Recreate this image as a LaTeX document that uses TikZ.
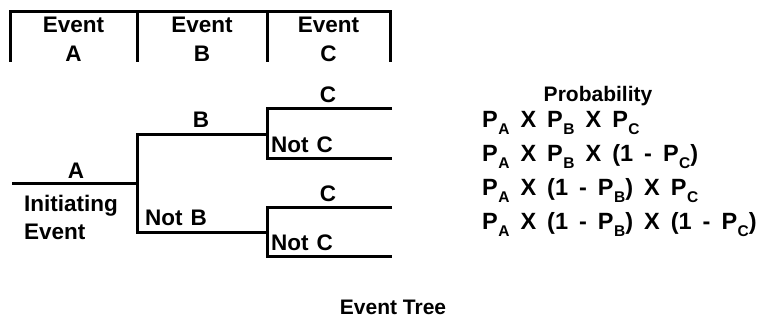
\documentclass[tikz,border=0pt]{standalone}
\usepackage{fontspec}
\setmainfont{Liberation Sans}
\newcommand\probterm[1]{P\kern0.5pt\raisebox{-7pt}{\fontsize{15.5}{15.5}\selectfont #1}}
\newcommand\branchfont{\bfseries\fontsize{22.5}{24}\selectfont\spaceskip=8pt\relax}
\newcommand\probfont{\bfseries\fontsize{23.5}{26}\selectfont\spaceskip=11pt\relax}
\newcommand\headfont{\bfseries\fontsize{21}{23}\selectfont}
\begin{document}
\begin{tikzpicture}[x=1pt,y=-1pt,
  branch/.style={line width=3pt, line join=miter},
  lbl/.style={font=\branchfont, inner sep=0pt, anchor=base},
  lblw/.style={lbl, anchor=base west},
  prob/.style={font=\probfont, inner sep=0pt, anchor=base west},
  heading/.style={font=\headfont, inner sep=0pt, anchor=base}]
\useasboundingbox (0,0) rectangle (760,329);

% column header bracket
\coordinate (h0t) at (10,12);  \coordinate (h0b) at (10,62);
\coordinate (h1t) at (137,12); \coordinate (h1b) at (137,62);
\coordinate (h2t) at (267,12); \coordinate (h2b) at (267,62);
\coordinate (h3t) at (390,12); \coordinate (h3b) at (390,62);
\draw[branch] (h0b) -- (h0t) -- (h3t) -- (h3b);
\draw[branch] (h1t) -- (h1b);
\draw[branch] (h2t) -- (h2b);

\node[lbl] (evA) at (73.5,33) {Event};
\node[lbl] (evAl) at (73.5,62) {A};
\node[lbl] (evB) at (202,33) {Event};
\node[lbl] (evBl) at (202,62) {B};
\node[lbl] (evC) at (328.5,33) {Event};
\node[lbl] (evCl) at (328.5,62) {C};

% tree points
\coordinate (a0) at (12,183);   \coordinate (a1) at (137,183);
\coordinate (b0) at (137,134);  \coordinate (b1) at (267,134);
\coordinate (nb0) at (137,232); \coordinate (nb1) at (267,232);
\coordinate (c1s) at (267,108); \coordinate (c1e) at (392,108);
\coordinate (n1s) at (267,158); \coordinate (n1e) at (392,158);
\coordinate (c2s) at (267,207); \coordinate (c2e) at (392,207);
\coordinate (n2s) at (267,256); \coordinate (n2e) at (392,256);

\draw[branch] (a0) -- (a1);
\draw[branch] (b1) -- (b0) -- (nb0) -- (nb1);
\draw[branch] (c1e) -- (c1s) -- (n1s) -- (n1e);
\draw[branch] (c2e) -- (c2s) -- (n2s) -- (n2e);

% branch labels
\node[lbl] (labA) at (76,178) {A};
\node[lblw] (init) at (24,211) {Initiating};
\node[lblw] (initev) at (24,239) {Event};
\node[lbl] (labB) at (201,127) {B};
\node[lblw] (labNB) at (145,225) {Not B};
\node[lbl] (labC1) at (328,102) {C};
\node[lblw] (labN1) at (271,152) {Not C};
\node[lbl] (labC2) at (328,201) {C};
\node[lblw] (labN2) at (271,250) {Not C};

% outcome probabilities
\node[heading] (probhead) at (598,101) {Probability};
\node[prob] (r1) at (482,127) {\probterm{A} X \probterm{B} X \probterm{C}};
\node[prob] (r2) at (482,161) {\probterm{A} X \probterm{B} X (1 - \probterm{C})};
\node[prob] (r3) at (482,195) {\probterm{A} X (1 - \probterm{B}) X \probterm{C}};
\node[prob] (r4) at (482,229) {\probterm{A} X (1 - \probterm{B}) X (1 - \probterm{C})};

\node[heading] (title) at (393,314) {Event Tree};
\end{tikzpicture}
\end{document}
